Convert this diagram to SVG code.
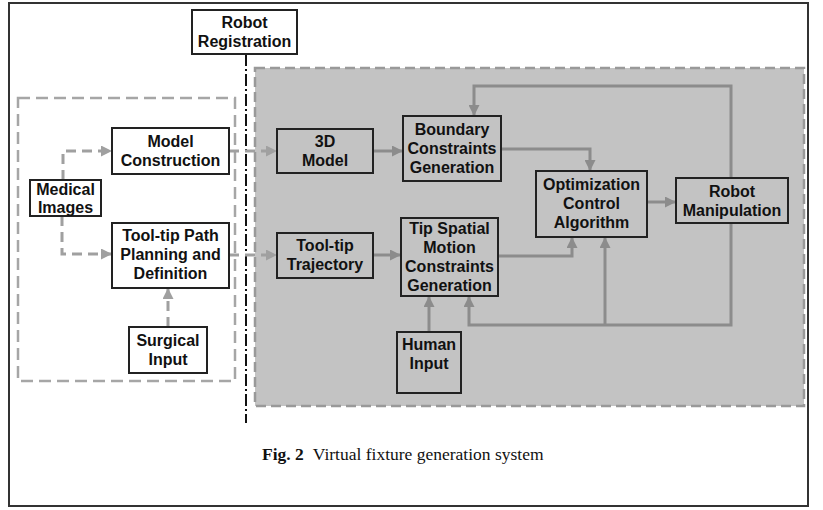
<svg xmlns="http://www.w3.org/2000/svg" width="823" height="510" viewBox="0 0 823 510">
<defs>
<style>
.frame{fill:#fff;stroke:#333;stroke-width:2}
.region{fill:#c3c3c3;stroke:#999;stroke-width:2.5;stroke-dasharray:10 5}
.lbox{fill:none;stroke:#a6a6a6;stroke-width:2.5;stroke-dasharray:12 6}
.wn{fill:#fff;stroke:#222;stroke-width:2}
.gn{fill:#c3c3c3;stroke:#222;stroke-width:2}
.t{font-family:"Liberation Sans",Arial,sans-serif;font-weight:bold;font-size:16px;fill:#111;text-anchor:middle}
.c{fill:none;stroke:#8c8c8c;stroke-width:3}
.d{fill:none;stroke:#a0a0a0;stroke-width:3;stroke-dasharray:10 6}
.dd{fill:none;stroke:#111;stroke-width:2;stroke-dasharray:12 3 2 3}
.cap{font-family:"Liberation Serif","Times New Roman",serif;font-size:17.5px;fill:#111}
</style>
<marker id="ah" markerUnits="userSpaceOnUse" markerWidth="11" markerHeight="11" refX="11" refY="5.5" orient="auto">
<path d="M0,0 L11,5.5 L0,11 z" fill="#8c8c8c"/>
</marker>
<marker id="ahd" markerUnits="userSpaceOnUse" markerWidth="11" markerHeight="11" refX="11" refY="5.5" orient="auto">
<path d="M0,0 L11,5.5 L0,11 z" fill="#a0a0a0"/>
</marker>
</defs>
<rect class="frame" x="9" y="3" width="799" height="503"/>
<rect class="region" x="255" y="68" width="549" height="338"/>
<rect class="lbox" x="18" y="98" width="217" height="283"/>
<line class="dd" x1="246" y1="54" x2="246" y2="423"/>
<g id="connectors">
<path class="d" d="M63,180 V151 H112" marker-end="url(#ahd)"/>
<path class="d" d="M62,216 V254 H112" marker-end="url(#ahd)"/>
<path class="d" d="M168,327 V288" marker-end="url(#ahd)"/>
<path class="d" d="M229,151 H277" marker-end="url(#ahd)"/>
<path class="d" d="M229,255 H277" marker-end="url(#ahd)"/>
<path class="c" d="M373,151 H403" marker-end="url(#ah)"/>
<path class="c" d="M373,255 H401" marker-end="url(#ah)"/>
<path class="c" d="M501,149 H590 V171" marker-end="url(#ah)"/>
<path class="c" d="M498,256 H572 V237" marker-end="url(#ah)"/>
<path class="c" d="M647,202 H676" marker-end="url(#ah)"/>
<path class="c" d="M731,178 V86 H474 V116" marker-end="url(#ah)"/>
<path class="c" d="M731,223 V325 H469 V296" marker-end="url(#ah)"/>
<path class="c" d="M605,325 V237" marker-end="url(#ah)"/>
<path class="c" d="M429,332 V296" marker-end="url(#ah)"/>
</g>
<g id="robot-registration">
<rect class="wn" x="192" y="10" width="105" height="44"/>
<text class="t" x="244.5" y="28">Robot</text>
<text class="t" x="244.5" y="47">Registration</text>
</g>
<g id="model-construction">
<rect class="wn" x="112" y="128" width="117" height="46"/>
<text class="t" x="170.5" y="147">Model</text>
<text class="t" x="170.5" y="166">Construction</text>
</g>
<g id="medical-images">
<rect class="wn" x="30" y="180" width="71" height="36"/>
<text class="t" x="65.5" y="195">Medical</text>
<text class="t" x="65.5" y="213">Images</text>
</g>
<g id="tooltip-path">
<rect class="wn" x="112" y="223" width="117" height="65"/>
<text class="t" x="170.5" y="241">Tool-tip Path</text>
<text class="t" x="170.5" y="260">Planning and</text>
<text class="t" x="170.5" y="279">Definition</text>
</g>
<g id="surgical-input">
<rect class="wn" x="129" y="327" width="78" height="46"/>
<text class="t" x="168" y="346">Surgical</text>
<text class="t" x="168" y="365">Input</text>
</g>
<g id="model-3d">
<rect class="gn" x="277" y="129" width="96" height="44"/>
<text class="t" x="325" y="147">3D</text>
<text class="t" x="325" y="166">Model</text>
</g>
<g id="tooltip-trajectory">
<rect class="gn" x="277" y="233" width="96" height="45"/>
<text class="t" x="325" y="251">Tool-tip</text>
<text class="t" x="325" y="270">Trajectory</text>
</g>
<g id="boundary-constraints">
<rect class="gn" x="403" y="116" width="98" height="65"/>
<text class="t" x="452" y="135">Boundary</text>
<text class="t" x="452" y="154">Constraints</text>
<text class="t" x="452" y="173">Generation</text>
</g>
<g id="tip-spatial">
<rect class="gn" x="401" y="218" width="97" height="78"/>
<text class="t" x="449.5" y="234">Tip Spatial</text>
<text class="t" x="449.5" y="253">Motion</text>
<text class="t" x="449.5" y="272">Constraints</text>
<text class="t" x="449.5" y="291">Generation</text>
</g>
<g id="optimization">
<rect class="gn" x="536" y="171" width="111" height="66"/>
<text class="t" x="591.5" y="190">Optimization</text>
<text class="t" x="591.5" y="209">Control</text>
<text class="t" x="591.5" y="228">Algorithm</text>
</g>
<g id="robot-manipulation">
<rect class="gn" x="676" y="178" width="112" height="45"/>
<text class="t" x="732" y="197">Robot</text>
<text class="t" x="732" y="216">Manipulation</text>
</g>
<g id="human-input">
<rect class="gn" x="397" y="332" width="64" height="61"/>
<text class="t" x="429" y="350">Human</text>
<text class="t" x="429" y="369">Input</text>
</g>
<text class="cap" x="262" y="460"><tspan font-weight="bold">Fig. 2</tspan><tspan dx="9">Virtual fixture generation system</tspan></text>
</svg>
